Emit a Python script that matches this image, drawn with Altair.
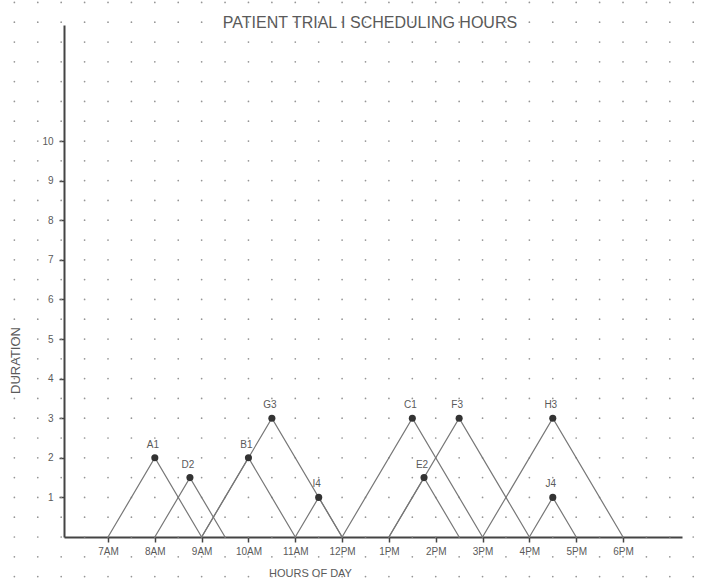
import altair as alt
import pandas as pd
import numpy as np

# ---- data ----
task_names = ["A1", "D2", "B1", "G3", "I4", "C1", "E2", "F3", "H3", "J4"]
start_hours = [7, 8, 9, 9, 11, 12, 13, 13, 15, 16]   # hour of day (24h)
durations = [2, 1.5, 2, 3, 1, 3, 1.5, 3, 3, 1]        # hours

hour_ticks = [7, 8, 9, 10, 11, 12, 13, 14, 15, 16, 17, 18]
hour_labels = ["7AM", "8AM", "9AM", "10AM", "11AM", "12PM",
               "1PM", "2PM", "3PM", "4PM", "5PM", "6PM"]
duration_ticks = [1, 2, 3, 4, 5, 6, 7, 8, 9, 10]

# ---- tables ----
tri_rows = []
peak_rows = []
for n, s, d in zip(task_names, start_hours, durations):
    tri_rows += [
        {"task": n, "hour": s, "duration": 0, "k": 0},
        {"task": n, "hour": s + d / 2, "duration": d, "k": 1},
        {"task": n, "hour": s + d, "duration": 0, "k": 2},
    ]
    peak_rows.append({"task": n, "hour": s + d / 2, "duration": d})
tri = pd.DataFrame(tri_rows)
peaks = pd.DataFrame(peak_rows)

# dotted-paper background (half hour x half unit)
gx, gy = np.meshgrid(np.arange(4.5, 20.01, 0.5), np.arange(-1.5, 13.51, 0.5))
paper = pd.DataFrame({"hour": gx.ravel(), "duration": gy.ravel()})

FONT = "Liberation Sans"
INK = "#5a5a5a"

xscale = alt.Scale(domain=[6.06, 19.26], nice=False, zero=False)
yscale = alt.Scale(domain=[0, 12.93], nice=False, zero=True)

label_expr = "[" + ",".join("'%s'" % l for l in hour_labels) + "][datum.value - 7]"

xaxis = alt.Axis(values=hour_ticks, labelExpr=label_expr, title="HOURS OF DAY",
                 grid=False, domainColor="#444", domainWidth=2,
                 tickColor="#444", tickSize=5, tickWidth=1.5,
                 labelColor=INK, labelFont=FONT, labelFontSize=10,
                 labelPadding=4, titleColor=INK, titleFont=FONT,
                 titleFontSize=11, titleFontWeight="normal",
                 titleX=246, titleY=36, titleAlign="center",
                 titleBaseline="middle")
yaxis = alt.Axis(values=duration_ticks, title="DURATION", grid=False,
                 domainColor="#444", domainWidth=2,
                 tickColor="#444", tickSize=5, tickWidth=1.5,
                 labelColor=INK, labelFont=FONT, labelFontSize=10,
                 labelPadding=6, titleColor=INK, titleFont=FONT,
                 titleFontSize=13, titleFontWeight="normal",
                 titleX=-49, titleY=335, titleAngle=270,
                 titleAlign="center", titleBaseline="middle")

dots = alt.Chart(paper).mark_circle(size=3, color="#8a8a8a", opacity=0.9).encode(
    x=alt.X("hour:Q", scale=xscale, axis=xaxis),
    y=alt.Y("duration:Q", scale=yscale, axis=yaxis),
)

lines = alt.Chart(tri).mark_line(color="#777777", strokeWidth=1.2).encode(
    x=alt.X("hour:Q", scale=xscale),
    y=alt.Y("duration:Q", scale=yscale),
    detail="task:N",
    order="k:Q",
)

pts = alt.Chart(peaks).mark_circle(size=50, color="#333333", opacity=1).encode(
    x=alt.X("hour:Q", scale=xscale),
    y=alt.Y("duration:Q", scale=yscale),
)

labels = alt.Chart(peaks).mark_text(font=FONT, fontSize=10, color=INK,
                                    dy=-13, dx=-2).encode(
    x=alt.X("hour:Q", scale=xscale),
    y=alt.Y("duration:Q", scale=yscale),
    text="task:N",
)

chart = alt.layer(dots, lines, pts, labels).properties(
    width=618, height=512,
    autosize="none",
    padding={"left": 64, "top": 25, "right": 33, "bottom": 50},
    background="#ffffff",
    title=alt.TitleParams("PATIENT TRIAL I SCHEDULING HOURS", font=FONT,
                          fontSize=16, fontWeight="normal", color=INK,
                          offset=0, dy=29, dx=-3),
).configure_view(stroke=None)

chart.save("out.html", embed_options={"renderer": "svg", "actions": False})
